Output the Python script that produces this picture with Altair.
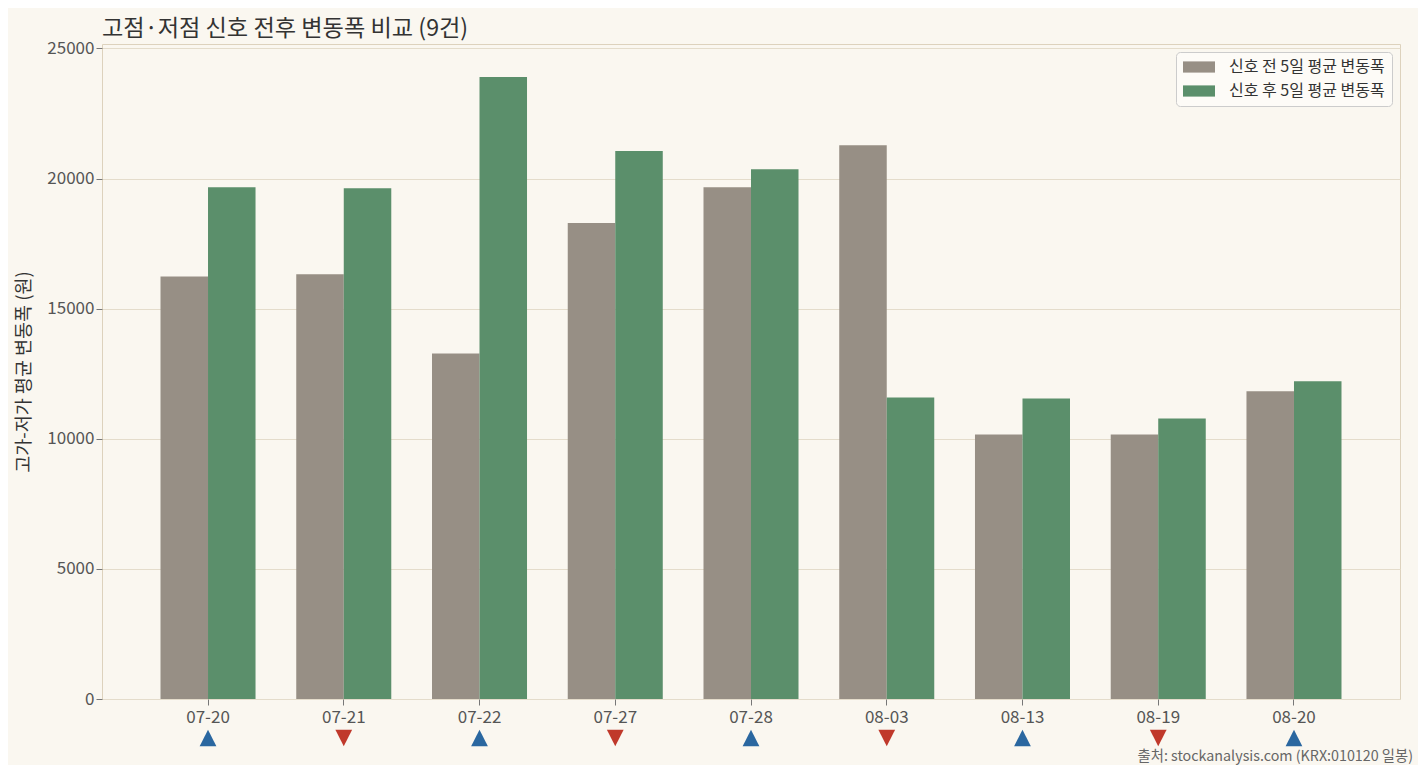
import altair as alt
import pandas as pd

dates = ["07-20", "07-21", "07-22", "07-27", "07-28", "08-03", "08-13", "08-19", "08-20"]
before = [16240, 16320, 13280, 18290, 19665, 21280, 10165, 10165, 11830]
after = [19665, 19630, 23900, 21060, 20360, 11590, 11550, 10780, 12210]
signal = ["high", "low", "high", "low", "high", "low", "high", "low", "high"]

S_BEFORE = "신호 전 5일 평균 변동폭"
S_AFTER = "신호 후 5일 평균 변동폭"
series_order = [S_BEFORE, S_AFTER]

rows = []
for d, b, a in zip(dates, before, after):
    rows.append({"date": d, "series": S_BEFORE, "value": b})
    rows.append({"date": d, "series": S_AFTER, "value": a})
bars_df = pd.DataFrame(rows)
sig_df = pd.DataFrame({"date": dates, "signal": signal})
src_df = pd.DataFrame({"t": ["출처: stockanalysis.com (KRX:010120 일봉)"]})

FONT = "Noto Sans CJK KR"
W, H = 1298, 655

xscale = alt.Scale(domain=dates, paddingInner=0.3, paddingOuter=0.431)

bars = alt.Chart(bars_df).mark_bar().encode(
    x=alt.X("date:N", sort=dates, scale=xscale,
            axis=alt.Axis(title=None, labelAngle=0, labelPadding=4)),
    xOffset=alt.XOffset("series:N", sort=series_order,
                        scale=alt.Scale(domain=series_order, paddingInner=0, paddingOuter=0)),
    y=alt.Y("value:Q", scale=alt.Scale(domain=[0, 25170], nice=False),
            axis=alt.Axis(title="고가-저가 평균 변동폭 (원)", values=[0, 5000, 10000, 15000, 20000, 25000],
                          format="d", titlePadding=13)),
    color=alt.Color("series:N", sort=series_order,
                    scale=alt.Scale(domain=series_order, range=["#978f85", "#5b8f6b"]),
                    legend=alt.Legend(title=None, orient="top-right", offset=8)),
)

up = alt.Chart(sig_df).transform_filter(alt.datum.signal == "high").mark_point(
    shape="M0,-1L1,1L-1,1Z", filled=True, size=280, opacity=1, fill="#2a67a0", strokeWidth=0
).encode(x=alt.X("date:N", sort=dates, scale=xscale), y=alt.value(694))

down = alt.Chart(sig_df).transform_filter(alt.datum.signal == "low").mark_point(
    shape="M-1,-1L1,-1L0,1Z", filled=True, size=280, opacity=1, fill="#c0392b", strokeWidth=0
).encode(x=alt.X("date:N", sort=dates, scale=xscale), y=alt.value(694))

src = alt.Chart(src_df).mark_text(
    align="right", baseline="middle", fontSize=14.3, color="#666666", font=FONT
).encode(x=alt.value(W + 13), y=alt.value(713), text="t:N")

chart = alt.layer(bars, up, down, src).properties(
    width=W, height=H,
    title=alt.TitleParams("고점·저점 신호 전후 변동폭 비교 (9건)", anchor="start", frame="group",
                          fontSize=23.2, font=FONT, color="#333333", fontWeight="normal", offset=-2),
    background="#faf7f0",
    autosize=alt.AutoSizeParams(type="none"),
    padding={"left": 94, "top": 36, "right": 18, "bottom": 66},
).configure_view(
    stroke="#ddd2bd", strokeWidth=1, fill="#faf7f0"
).configure_axis(
    labelFont=FONT, titleFont=FONT, labelFontSize=17, titleFontSize=18.5,
    labelColor="#555555", titleColor="#333333", titleFontWeight="normal",
    tickColor="#777777", tickSize=6, domain=False,
).configure_axisY(
    grid=True, gridColor="#e4dccb", gridWidth=1,
).configure_axisX(
    grid=False,
).configure_legend(
    labelFont=FONT, labelFontSize=16, labelColor="#333333",
    fillColor="#fdfbf7", strokeColor="#cccccc", cornerRadius=4, padding=7,
    symbolType="M-2,-0.7L2,-0.7L2,0.7L-2,0.7Z", symbolSize=256, symbolOffset=8,
    symbolStrokeWidth=0, symbolOpacity=1, rowPadding=8, labelOffset=22,
)

chart.save("out.html", embed_options={"renderer": "svg", "actions": False})
